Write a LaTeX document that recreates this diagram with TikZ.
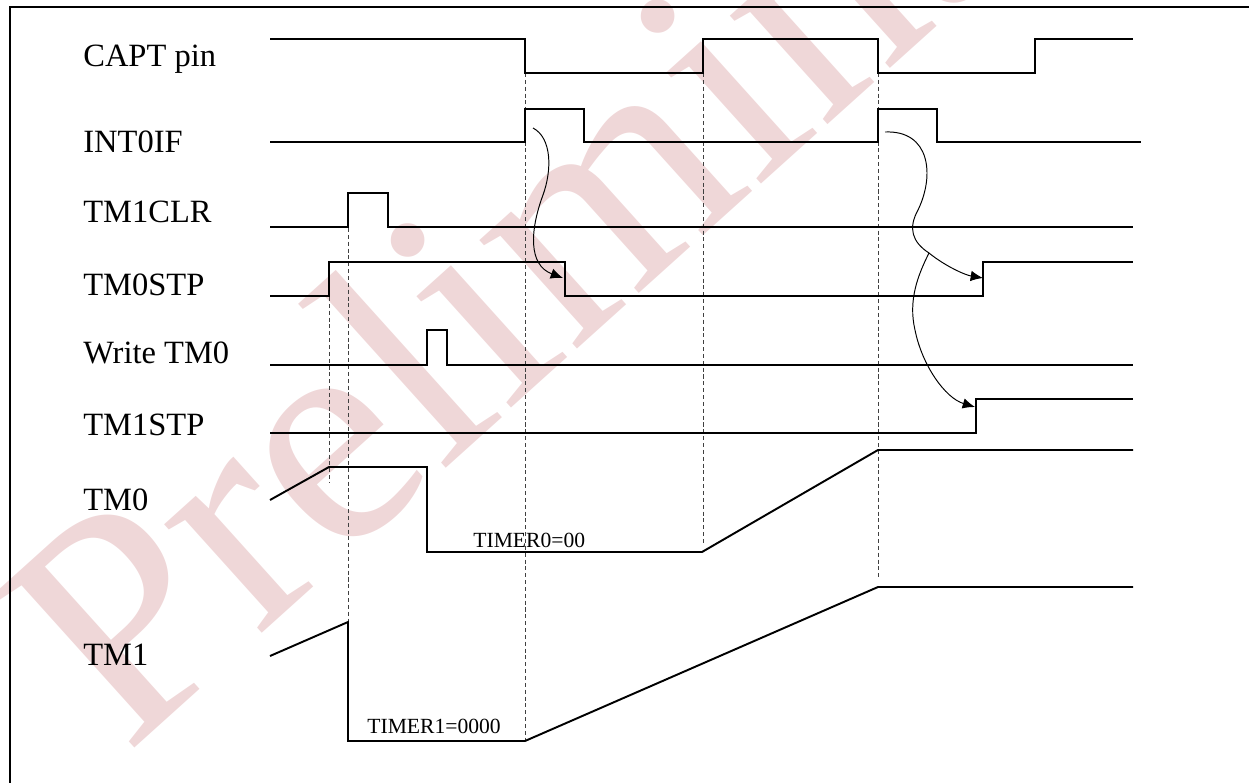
\documentclass[tikz,border=0pt]{standalone}
\usepackage{fontspec}
\setmainfont{Liberation Serif}
\usetikzlibrary{arrows.meta}
\definecolor{stamp}{RGB}{239,215,216}
\tikzstyle{signal label} = [%
	anchor=base west,
	inner sep=0pt,
	font=\fontsize{18.5}{22}\selectfont
]
\tikzstyle{value label} = [%
	anchor=base west,
	inner sep=0pt,
	font=\fontsize{12.3}{14}\selectfont
]
\tikzstyle{wave} = [line width=1.1pt, line join=miter]
\tikzstyle{guide} = [line width=0.55pt, dash pattern=on 2.3pt off 1.6pt, black!75]
\tikzstyle{cause} = [line width=0.55pt, -{Latex[length=7pt,width=6pt]}]
\tikzstyle{frame} = [line width=1.7pt]

\begin{document}
\begin{tikzpicture}[x=0.02cm, y=-0.02cm]
\useasboundingbox (0,0) rectangle (1249,782);

% watermark
\node[rotate=42, anchor=base west, inner sep=0pt, text=stamp,
      font=\fontsize{181}{181}\selectfont] (stamp) at (126,756) {Preliminary};

% frame, cut by the page
\draw[frame] (10,800) -- (10,7) -- (1260,7);

% signal names
\node[signal label] (capt) at (83,66) {CAPT pin};
\node[signal label] (int0if) at (83,152) {INT0IF};
\node[signal label] (tm1clr) at (83,222) {TM1CLR};
\node[signal label] (tm0stp) at (83,295) {TM0STP};
\node[signal label] (wrtm0) at (83,363) {Write TM0};
\node[signal label] (tm1stp) at (83,435) {TM1STP};
\node[signal label] (tm0) at (83,510) {TM0};
\node[signal label] (tm1) at (83,665) {TM1};

% guides
\draw[guide] (329,297) -- (329,483);
\draw[guide] (348,228) -- (348,622);
\draw[guide] (525,73) -- (525,741);
\draw[guide] (703,73) -- (703,543);
\draw[guide] (878,73) -- (878,578);

% waveforms
\draw[wave] (270,39) -- (525,39) -- (525,73) -- (703,73) -- (703,39) -- (878,39)
  -- (878,73) -- (1035,73) -- (1035,39) -- (1133,39); % CAPT pin
\draw[wave] (270,142) -- (525,142) -- (525,109) -- (584,109) -- (584,142) -- (878,142)
  -- (878,109) -- (937,109) -- (937,142) -- (1141,142); % INT0IF
\draw[wave] (270,227) -- (348,227) -- (348,193) -- (388,193) -- (388,227) -- (1133,227); % TM1CLR
\draw[wave] (270,296) -- (329,296) -- (329,262) -- (565,262) -- (565,296) -- (983,296)
  -- (983,262) -- (1133,262); % TM0STP
\draw[wave] (270,365) -- (427,365) -- (427,330) -- (447,330) -- (447,365) -- (1133,365); % Write TM0
\draw[wave] (270,433) -- (976,433) -- (976,399) -- (1133,399); % TM1STP
\draw[wave] (270,500) -- (329,467) -- (427,467) -- (427,552) -- (702,552) -- (878,450)
  -- (1133,450); % TM0
\draw[wave] (270,656) -- (348,622) -- (348,741) -- (525,741) -- (878,587) -- (1133,587); % TM1

% counter values
\node[value label] (tmr0) at (473,547) {TIMER0=00};
\node[value label] (tmr1) at (367,733) {TIMER1=0000};

% cause and effect
\coordinate (int0 a) at (533,128);
\coordinate (stop0 a) at (563,278);
\coordinate (int0 b) at (885,132);
\coordinate (fork) at (929,253);
\coordinate (stop0 b) at (983,278);
\coordinate (stop1 b) at (975,407);
\draw[cause] (int0 a) .. controls (552,138) and (552,170) .. (543,195)
  .. controls (530,230) and (528,265) .. (stop0 a);
\draw[line width=0.55pt] (int0 b) .. controls (930,130) and (935,175) .. (918,210)
  .. controls (908,228) and (912,242) .. (fork);
\draw[cause] (fork) .. controls (945,266) and (965,275) .. (stop0 b);
\draw[cause] (fork) .. controls (918,275) and (908,300) .. (915,330)
  .. controls (922,365) and (945,398) .. (stop1 b);

\end{tikzpicture}
\end{document}
